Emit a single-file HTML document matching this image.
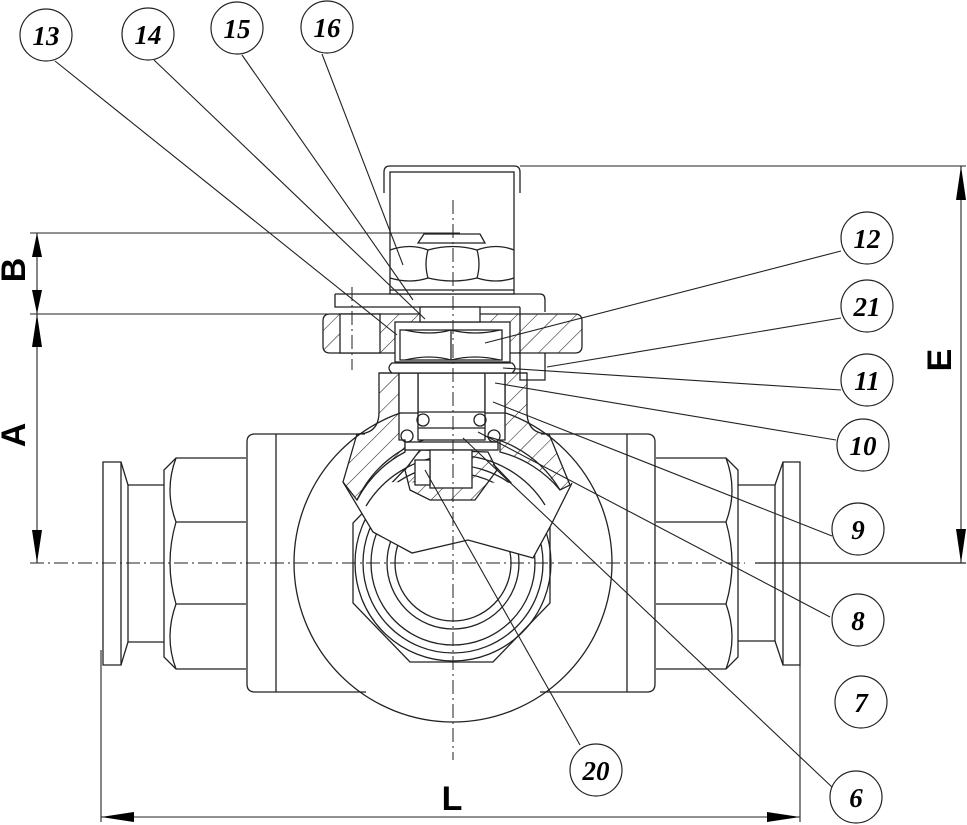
<!DOCTYPE html>
<html><head><meta charset="utf-8"><style>
html,body{margin:0;padding:0;background:#fff}
svg{display:block}
.t{font-family:"Liberation Serif",serif;font-style:italic;font-weight:bold;font-size:27px;text-anchor:middle}
.d{font-family:"Liberation Sans",sans-serif;font-weight:bold;font-size:34px;text-anchor:middle}
</style></head><body>
<svg width="967" height="825" viewBox="0 0 967 825" xmlns="http://www.w3.org/2000/svg">
<defs>
<pattern id="h" patternUnits="userSpaceOnUse" width="14" height="14" patternTransform="rotate(45)">
<line x1="0" y1="0" x2="0" y2="14" stroke="#222" stroke-width="1.1"/></pattern>
</defs>
<g fill="none" stroke="#222" stroke-width="1.3">
<circle cx="453" cy="563" r="159"/>
<path d="M365,434 L255,434 Q247,434 247,442 L247,684 Q247,692 255,692 L366,692"/>
<path d="M541,434 L647,434 Q655,434 655,442 L655,684 Q655,692 647,692 L540,692"/>
<line x1="276" y1="434" x2="276" y2="692"/>
<line x1="627" y1="434" x2="627" y2="692"/>
<path d="M246,458 L176,458 L164,470 L164,657 L176,669 L246,669"/>
<path d="M176,458 Q164,490 176,522 Q164,563 176,604 Q164,637 176,669"/>
<line x1="176" y1="522" x2="246" y2="522"/><line x1="176" y1="604" x2="246" y2="604"/>
<path d="M164,485 L128,485 L128,642 L164,642"/>
<path d="M128,485 L121,462 L103,462 L103,665 L121,665 L128,642"/>
<line x1="121" y1="462" x2="121" y2="665"/>
<path d="M656,458 L726,458 L738,470 L738,657 L726,669 L656,669"/>
<path d="M726,458 Q738,490 726,522 Q738,563 726,604 Q738,637 726,669"/>
<line x1="656" y1="522" x2="726" y2="522"/><line x1="656" y1="604" x2="726" y2="604"/>
<path d="M738,485 L775,485 L775,641 L738,641"/>
<path d="M775,485 L783,462 L800,462 L800,665 L783,665 L775,641"/>
<line x1="783" y1="462" x2="783" y2="665"/>
<path d="M410,464 L353,523 L353,603 L410,662 L493,662 L550,603 L550,523 L493,464"/>
<circle cx="453" cy="563" r="98"/><circle cx="453" cy="563" r="90"/>
<circle cx="453" cy="563" r="82"/><circle cx="453" cy="563" r="66"/>
<circle cx="453" cy="563" r="58"/>
<path d="M343,482 L373,532 L412,553 L468,540 L533,558 L550,527 L572,483" fill="#fff"/>
<path d="M357,500 A115,115 0 0 1 560,490"/>
<path d="M366,506 A105,105 0 0 1 545,505"/>
<path d="M379,373 L379,412 Q379,434 357,434 L343,482 L357,500 A115,115 0 0 1 405,452 L405,440 L399,440 L399,373 Z" fill="url(#h)"/>
<path d="M527,373 L527,412 Q527,434 549,434 L570,485 L560,490 A115,115 0 0 0 500,452 L500,440 L505,440 L505,373 Z" fill="url(#h)"/>
<path d="M420,450 L405,470 L410,490 L430,500 L475,500 L497,470 L488,452 Z" fill="url(#h)"/>
<rect x="418" y="373" width="67" height="67" fill="#fff"/>
<rect x="399" y="373" width="19" height="40" fill="#fff"/><rect x="485" y="373" width="20" height="40" fill="#fff"/>
<rect x="405" y="442" width="93" height="8" fill="#fff"/>
<rect x="430" y="450" width="42" height="38" fill="#fff"/>
<rect x="415" y="460" width="15" height="25" fill="#fff"/>
<line x1="418" y1="412" x2="485" y2="412"/><line x1="418" y1="428" x2="485" y2="428"/>
<circle cx="423" cy="420" r="6"/><circle cx="480" cy="420" r="6"/>
<circle cx="407" cy="436" r="6"/><circle cx="494" cy="436" r="6"/>
<line x1="379" y1="373" x2="527" y2="373"/>
<path d="M392,363 L512,363 Q518,368 512,373 L392,373 Q386,368 392,363Z" fill="#fff"/>
<path d="M330,314 L575,314 Q582,314 582,321 L582,346 Q582,353 575,353 L330,353 Q323,353 323,346 L323,321 Q323,314 330,314Z" fill="url(#h)"/>
<rect x="340" y="314" width="40" height="39" fill="#fff"/>
<rect x="395" y="322" width="115" height="40" fill="#fff"/>
<rect x="400" y="330" width="102" height="30" fill="#fff"/>
<path d="M405,330 Q430,336 451,330 Q475,336 500,330 M405,360 Q430,354 451,360 Q475,354 500,360"/>
<line x1="451" y1="330" x2="451" y2="360"/>
<path d="M335,294 L540,294 Q545,294 545,300 L545,312 M335,294 L335,307 L520,307"/>
<rect x="420" y="307" width="60" height="15" fill="#fff"/>
<path d="M520,307 L520,380 L545,380 L545,353"/>
<path d="M384,193 L384,172 Q384,166 390,166 L514,166 Q520,166 520,172 L520,193"/>
<rect x="390" y="172" width="124" height="122" fill="#fff"/>
<path d="M390,250 Q410,243 428,250 Q453,243 477,250 Q496,243 514,250 M390,278 Q410,284 428,278 Q453,284 477,278 Q496,284 514,278"/>
<path d="M428,250 Q424,264 428,278 M477,250 Q481,264 477,278"/>
<path d="M418,243 L424,234 L480,234 L485,243 Z"/>
<line x1="390" y1="290" x2="514" y2="290"/>
</g>
<g stroke="#222" stroke-width="1" stroke-dasharray="14,4,2,4" fill="none">
<line x1="30" y1="563" x2="745" y2="563"/>
<line x1="453" y1="200" x2="453" y2="760"/>
<line x1="352" y1="287" x2="352" y2="370"/>
</g>
<line x1="755" y1="563" x2="966" y2="563" stroke="#222" stroke-width="1.2"/>
<g stroke="#222" stroke-width="1.1">
<line x1="55" y1="61" x2="397" y2="335"/>
<line x1="154" y1="60" x2="425" y2="319"/>
<line x1="242" y1="55" x2="413" y2="300"/>
<line x1="322" y1="54" x2="403" y2="265"/>
<line x1="841" y1="251" x2="485" y2="343"/>
<line x1="841" y1="318" x2="547" y2="367"/>
<line x1="841" y1="390" x2="503" y2="368"/>
<line x1="836" y1="440" x2="495" y2="383"/>
<line x1="832" y1="536" x2="493" y2="402"/>
<line x1="830" y1="617" x2="478" y2="432"/>
<line x1="833" y1="788" x2="463" y2="438"/>
<line x1="580" y1="745" x2="425" y2="470"/>
</g>
<g fill="#fff" stroke="#222" stroke-width="1.2">
<circle cx="46" cy="35" r="26"/><circle cx="148" cy="34" r="26"/><circle cx="237" cy="28" r="26"/><circle cx="327" cy="27" r="26"/>
<circle cx="867" cy="238" r="26"/><circle cx="867" cy="306" r="26"/><circle cx="867" cy="380" r="26"/><circle cx="863" cy="445" r="26"/>
<circle cx="858" cy="529" r="26"/><circle cx="858" cy="620" r="26"/><circle cx="861" cy="702" r="26"/>
<circle cx="596" cy="770" r="26"/><circle cx="856" cy="797" r="26"/>
</g>
<g class="t">
<text x="46" y="45">13</text><text x="148" y="44">14</text><text x="237" y="38">15</text><text x="327" y="37">16</text>
<text x="867" y="248">12</text><text x="867" y="316">21</text><text x="867" y="390">11</text><text x="863" y="455">10</text>
<text x="858" y="539">9</text><text x="858" y="630">8</text><text x="861" y="712">7</text>
<text x="596" y="780">20</text><text x="856" y="807">6</text>
</g>
<g stroke="#222" stroke-width="1.1" fill="none">
<line x1="520" y1="166" x2="966" y2="166"/>
<line x1="961" y1="166" x2="961" y2="563"/>
<line x1="30" y1="233" x2="460" y2="233"/>
<line x1="30" y1="314" x2="330" y2="314"/>
<line x1="37" y1="233" x2="37" y2="563"/>
<line x1="101" y1="650" x2="101" y2="822"/>
<line x1="800" y1="665" x2="800" y2="822"/>
<line x1="101" y1="817" x2="800" y2="817"/>
</g>
<g fill="#000">
<polygon points="961,166 956,200 966,200"/><polygon points="961,563 956,529 966,529"/>
<polygon points="37,233 32,257 42,257"/><polygon points="37,314 32,290 42,290"/>
<polygon points="37,314 32,347 42,347"/><polygon points="37,563 32,530 42,530"/>
<polygon points="101,817 134,812 134,822"/><polygon points="800,817 767,812 767,822"/>
</g>
<g class="d">
<text transform="translate(951,360) rotate(-90)">E</text>
<text transform="translate(25,270) rotate(-90)">B</text>
<text transform="translate(25,435) rotate(-90)">A</text>
<text x="452" y="810">L</text>
</g>
</svg>
</body></html>
